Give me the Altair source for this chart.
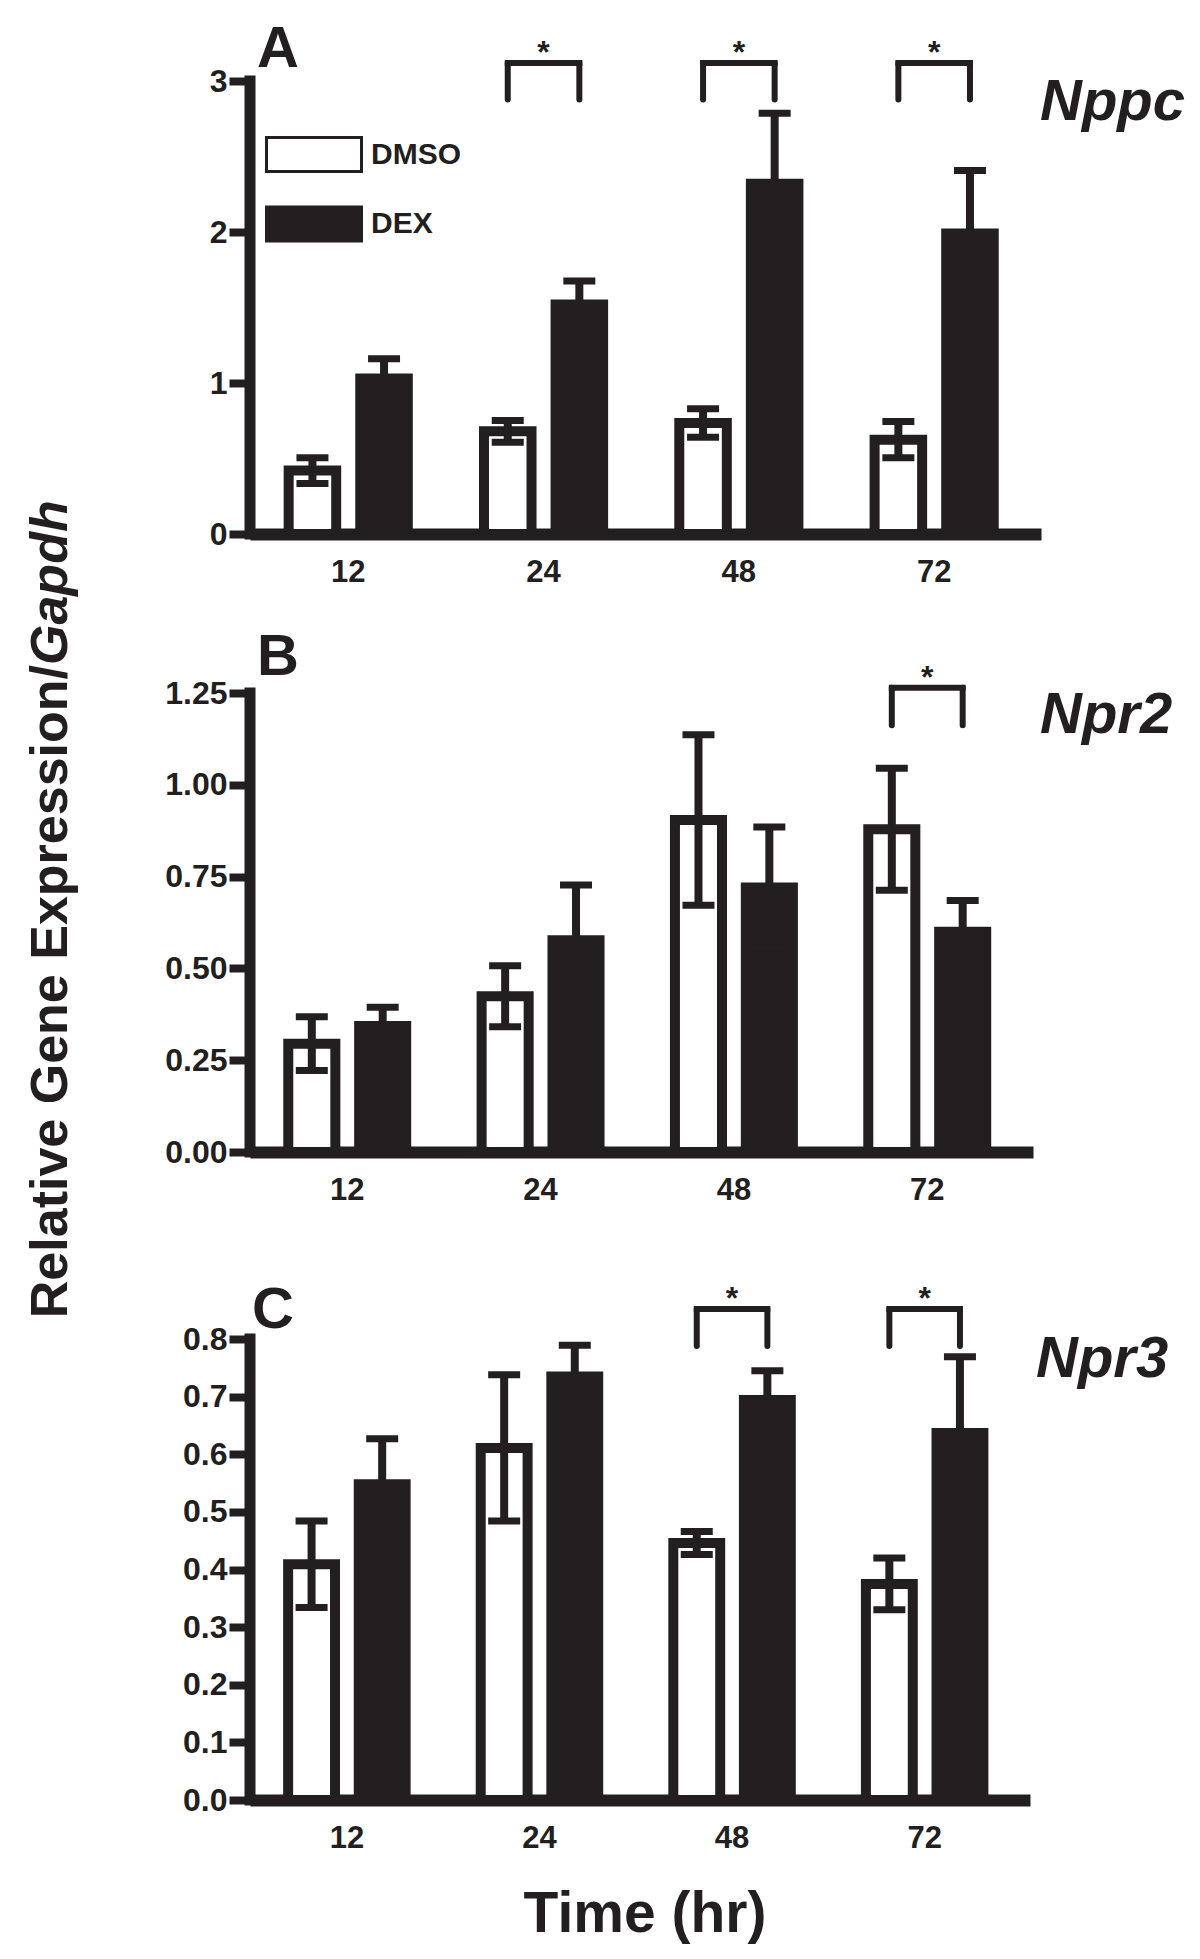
import altair as alt
import pandas as pd

INK = "#231f20"
FONT = "Liberation Sans"

# ---------------- data ----------------
times = ["12", "24", "48", "72"]
conds = ["DMSO", "DEX"]

nppc_dmso = [0.42, 0.68, 0.735, 0.625]
nppc_dmso_err = [0.085, 0.072, 0.095, 0.12]
nppc_dex = [1.03, 1.52, 2.32, 1.99]
nppc_dex_err = [0.13, 0.156, 0.466, 0.417]
nppc_sig = ["24", "48", "72"]

npr2_dmso = [0.295, 0.424, 0.904, 0.879]
npr2_dmso_err = [0.073, 0.083, 0.232, 0.166]
npr2_dex = [0.343, 0.577, 0.72, 0.60]
npr2_dex_err = [0.051, 0.15, 0.165, 0.085]
npr2_sig = ["72"]

npr3_dmso = [0.409, 0.611, 0.446, 0.375]
npr3_dmso_err = [0.075, 0.127, 0.02, 0.045]
npr3_dex = [0.548, 0.735, 0.694, 0.637]
npr3_dex_err = [0.079, 0.054, 0.051, 0.132]
npr3_sig = ["48", "72"]

nppc_ticks = [0, 1, 2, 3]
npr2_ticks = [0, 0.25, 0.5, 0.75, 1.0, 1.25]
npr3_ticks = [0, 0.1, 0.2, 0.3, 0.4, 0.5, 0.6, 0.7, 0.8]

# bracket levels (top of bracket, bottom of legs)
nppc_bracket = (3.12, 2.877)
npr2_bracket = (1.264, 1.162)
npr3_bracket = (0.852, 0.788)

# ---------------- helpers ----------------
PI, PO, AL = 0.39, 0.22, 0.45
OFF_PI = 0.336


def inner_step(width):
    step = width / (4 - PI + 2 * PO)
    bw = step * (1 - PI)
    return bw / (2 - OFF_PI)


def text_layer(label, x, y, size, italic=False, align="left", angle=None, baseline="alphabetic"):
    kw = dict(font=FONT, fontSize=size, fontWeight="bold", color=INK,
              align=align, baseline=baseline)
    if italic:
        kw["fontStyle"] = "italic"
    if angle is not None:
        kw["angle"] = angle
    return alt.Chart(pd.DataFrame({"label": [label]})).mark_text(**kw).encode(
        text="label:N", x=alt.value(x), y=alt.value(y))


def panel(dmso, dmso_err, dex, dex_err, sig, bracket, ticks, fmt, ymax,
          width, height, legend=None, extra=()):
    df = pd.DataFrame({
        "time": times * 2,
        "cond": ["DMSO"] * 4 + ["DEX"] * 4,
        "mean": dmso + dex,
        "err": dmso_err + dex_err,
    })
    df["lo"] = df["mean"] - df["err"]
    df["hi"] = df["mean"] + df["err"]

    xs = alt.Scale(paddingInner=PI, paddingOuter=PO, align=AL)
    os_ = alt.Scale(paddingInner=OFF_PI, paddingOuter=0)
    ys = alt.Scale(domain=[0, ymax], nice=False, zero=True)

    def X(axis=False):
        if axis:
            return alt.X("time:N", sort=times, scale=xs,
                         axis=alt.Axis(title=None, labelAngle=0, ticks=False, tickSize=0,
                                       domain=True, domainWidth=12, domainColor=INK,
                                       labelFontSize=31, labelPadding=23, labelFont=FONT,
                                       labelFontWeight="bold", labelColor=INK))
        return alt.X("time:N", sort=times, title=None)

    XO = alt.XOffset("cond:N", sort=conds, scale=os_)

    base = alt.Chart(df)
    bars = base.mark_bar(stroke=INK, strokeWidth=10, opacity=1).encode(
        x=X(True),
        xOffset=XO,
        y=alt.Y("mean:Q", scale=ys,
                axis=alt.Axis(title=None, values=ticks, format=fmt, domain=False,
                              ticks=True, tickSize=21, tickWidth=8, tickColor=INK,
                              labelFontSize=32, labelPadding=2, labelFont=FONT,
                              labelFontWeight="bold", labelColor=INK, grid=False)),
        fill=alt.Fill("cond:N", sort=conds,
                      scale=alt.Scale(domain=conds, range=["white", INK]),
                      legend=legend),
    )
    err_rule = base.mark_rule(color=INK, strokeWidth=8, opacity=1).encode(
        x=X(), xOffset=XO, y=alt.Y("lo:Q", title=None), y2="hi:Q")
    cap_hi = base.mark_tick(color=INK, thickness=7, size=32, opacity=1).encode(
        x=X(), xOffset=XO, y=alt.Y("hi:Q", title=None))
    cap_lo = base.mark_tick(color=INK, thickness=7, size=32, opacity=1).encode(
        x=X(), xOffset=XO, y=alt.Y("lo:Q", title=None))

    yline = alt.Chart(pd.DataFrame({"y0": [0], "y1": [ticks[-1]]})).mark_rule(
        color=INK, strokeWidth=11, strokeCap="square", opacity=1).encode(
        x=alt.value(0), y=alt.Y("y0:Q", title=None), y2="y1:Q")

    layers = [bars, err_rule, cap_lo, cap_hi, yline]

    if sig:
        top, bot = bracket
        sdf = pd.DataFrame({"time": sig, "top": [top] * len(sig), "bot": [bot] * len(sig)})
        legs_df = pd.DataFrame({
            "time": [t for t in sig for _ in conds],
            "cond": conds * len(sig),
            "top": [top] * (2 * len(sig)),
            "bot": [bot] * (2 * len(sig)),
        })
        legs = alt.Chart(legs_df).mark_rule(color=INK, strokeWidth=6, strokeCap="round",
                                            opacity=1).encode(
            x=X(), xOffset=XO, y=alt.Y("bot:Q", title=None), y2="top:Q")
        hbar = alt.Chart(sdf).mark_tick(color=INK, thickness=6, opacity=1,
                                        size=inner_step(width) + 6).encode(
            x=X(), y=alt.Y("top:Q", title=None))
        star = alt.Chart(sdf).mark_text(text="*", font=FONT, fontSize=32, fontWeight="bold",
                                        color=INK, baseline="alphabetic").encode(
            x=X(), y=alt.Y("top:Q", title=None))
        layers += [legs, hbar, star]

    layers += list(extra)
    return alt.layer(*layers).properties(width=width, height=height)


WA, WB, WC = 791, 783, 780

legend_a = alt.Legend(
    orient="none", legendX=45.5, legendY=55, title=None, padding=0,
    symbolType="M-2.794,-1H2.794V1H-2.794Z", symbolSize=1156,
    symbolStrokeWidth=3, symbolStrokeColor=INK,
    labelFont=FONT, labelFontSize=30, labelFontWeight="bold", labelColor=INK,
    labelOffset=38.5, rowPadding=22.5, symbolOpacity=1,
)

panel_a = panel(nppc_dmso, nppc_dmso_err, nppc_dex, nppc_dex_err, nppc_sig, nppc_bracket,
                nppc_ticks, "d", 3.0, WA, 453, legend=legend_a,
                extra=[text_layer("A", 7, -14, 58),
                       text_layer("Nppc", 790, 39, 58, italic=True)])

panel_b = panel(npr2_dmso, npr2_dmso_err, npr2_dex, npr2_dex_err, npr2_sig, npr2_bracket,
                npr2_ticks, ".2f", 1.5741, WB, 578, legend=None,
                extra=[text_layer("B", 7, 101, 58),
                       text_layer("Npr2", 790, 159, 58, italic=True),
                       text_layer("Relative Gene Expression/", -183, 91, 52, align="right", angle=270),
                       text_layer("Gapdh", -183, 91, 52, italic=True, align="left", angle=270)])

panel_c = panel(npr3_dmso, npr3_dmso_err, npr3_dex, npr3_dex_err, npr3_sig, npr3_bracket,
                npr3_ticks, ".1f", 1.0551, WC, 608, legend=None,
                extra=[text_layer("C", 2, 136, 58),
                       text_layer("Npr3", 786, 185, 58, italic=True),
                       text_layer("Time (hr)", 395, 740, 57, align="center")])

chart = alt.vconcat(panel_a, panel_b, panel_c, spacing=40, bounds="flush").resolve_scale(
    x="independent", y="independent", fill="independent", xOffset="independent"
).resolve_legend(fill="independent").properties(
    padding={"left": 17, "top": 13, "right": 5, "bottom": 5},
    background="white",
).configure_view(strokeWidth=0, stroke="transparent")

chart.save("out.html", embed_options={"renderer": "svg", "actions": False})
